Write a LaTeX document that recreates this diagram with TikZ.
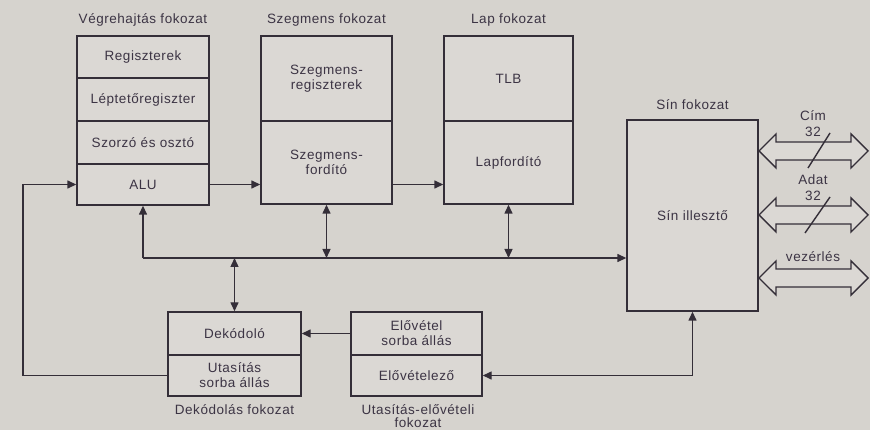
\documentclass[tikz,border=0pt]{standalone}
\usepackage{fontspec}
\setmainfont[LetterSpace=4]{Liberation Sans}
\usetikzlibrary{arrows.meta}
\definecolor{bg}{RGB}{214,211,206}
\definecolor{boxbg}{RGB}{219,216,212}
\definecolor{ink}{RGB}{52,46,56}
\definecolor{txt}{RGB}{60,52,68}
\begin{document}
\begin{tikzpicture}[x=1pt,y=-1pt,
  lbl/.style={text=txt, inner sep=0pt, align=center, font=\fontsize{13.5}{15}\selectfont},
  cell/.style={lbl, draw=ink, line width=1.4pt, fill=boxbg},
  arr/.style={draw=ink, line width=1.4pt, -{Triangle[length=9pt,width=8pt]}},
  darr/.style={draw=ink, line width=1.4pt, {Triangle[length=9pt,width=8pt]}-{Triangle[length=9pt,width=8pt]}},
  busarrow/.style={draw=ink, line width=1.4pt, fill=boxbg, line join=miter}]
\fill[bg] (0,0) rectangle (870,430);
\useasboundingbox (0,0) rectangle (870,430);

% Végrehajtás fokozat
\node[lbl] (t1) at (143,20) {Végrehajtás fokozat};
\node[cell, minimum width=132pt, minimum height=42pt] (reg) at (143,57) {Regiszterek};
\node[cell, minimum width=132pt, minimum height=43pt] (lep) at (143,99.5) {Léptetőregiszter};
\node[cell, minimum width=132pt, minimum height=43pt] (szo) at (143,142.5) {Szorzó és osztó};
\node[cell, minimum width=132pt, minimum height=41pt] (alu) at (143,184.5) {ALU};

% Szegmens fokozat
\node[lbl] (t2) at (326.5,20) {Szegmens fokozat};
\node[cell, minimum width=131pt, minimum height=85pt] (segreg) at (326.5,78.5) {Szegmens-\\regiszterek};
\node[cell, minimum width=131pt, minimum height=83pt] (segford) at (326.5,162.5) {Szegmens-\\fordító};

% Lap fokozat
\node[lbl] (t3) at (508.5,20) {Lap fokozat};
\node[cell, minimum width=129pt, minimum height=85pt] (tlb) at (508.5,78.5) {TLB};
\node[cell, minimum width=129pt, minimum height=83pt] (lapford) at (508.5,162.5) {Lapfordító};

% Sín fokozat
\node[lbl] (t4) at (692.5,105) {Sín fokozat};
\node[cell, minimum width=131pt, minimum height=191pt] (sin) at (692.5,215.5) {Sín illesztő};

% Dekódolás fokozat
\node[cell, minimum width=133pt, minimum height=43pt] (dek) at (234.5,333.5) {Dekódoló};
\node[cell, minimum width=133pt, minimum height=41pt] (utq) at (234.5,375.5) {Utasítás\\sorba állás};
\node[lbl] (t5) at (234.5,410) {Dekódolás fokozat};

% Utasítás-elővételi fokozat
\node[cell, minimum width=131pt, minimum height=43pt] (elq) at (416.5,333.5) {Elővétel\\sorba állás};
\node[cell, minimum width=131pt, minimum height=41pt] (elo) at (416.5,375.5) {Elővételező};
\node[lbl, font=\fontsize{13.5}{13}\selectfont] (t6) at (418,416) {Utasítás-elővételi\\fokozat};

% connectors
\coordinate (fbx) at (23,0);
\coordinate (busy) at (0,258);
\draw[arr] (utq.west) -- (utq.west -| fbx) |- (alu.west);
\draw[arr] (alu.east) -- (alu.east -| segford.west);
\draw[arr] (segford.east |- alu.east) -- (lapford.west |- alu.east);
\draw[arr] (alu.south |- busy) -- (alu.south);
\draw[arr] (alu.south |- busy) -- (sin.west |- busy);
\draw[darr] (segford.south) -- (segford.south |- busy);
\draw[darr] (lapford.south) -- (lapford.south |- busy);
\draw[darr] (dek.north) -- (dek.north |- busy);
\draw[arr] (elq.west) -- (dek.east);
\draw[darr] (sin.south) |- (elo.east);

% external bus arrows
\foreach \c in {151,215,278}{
  \draw[busarrow] (759,\c) -- (776,\c-17) -- (776,\c-9) -- (851,\c-9) -- (851,\c-17)
    -- (868,\c) -- (851,\c+17) -- (851,\c+9) -- (776,\c+9) -- (776,\c+17) -- cycle;
}
\node[lbl] (cim) at (813,116) {Cím};
\node[lbl] (cim32) at (813,132) {32};
\node[lbl] (adat) at (813,180) {Adat};
\node[lbl] (adat32) at (813,196) {32};
\node[lbl] (vez) at (813,257) {vezérlés};
\draw[ink, line width=1.4pt] (808,168) -- (830,133);
\draw[ink, line width=1.4pt] (805,233) -- (830,197);
\end{tikzpicture}
\end{document}
